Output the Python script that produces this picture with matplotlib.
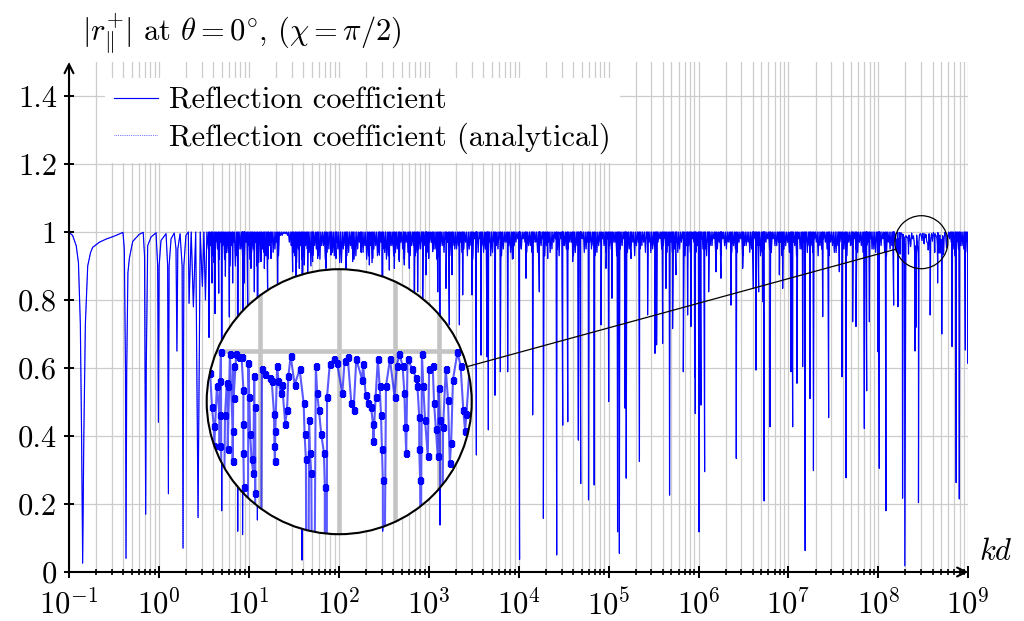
import numpy as np
import matplotlib.pyplot as plt
from matplotlib.patches import Circle
from matplotlib.lines import Line2D
from matplotlib.ticker import LogLocator, NullFormatter

plt.rcParams['font.family'] = 'serif'
plt.rcParams['font.serif'] = ['cmr10']
plt.rcParams['mathtext.fontset'] = 'cm'
plt.rcParams['axes.unicode_minus'] = False

# ---------------- data (log10(kd), |r|) ----------------
# smooth low-kd resonances
lead_logkd = [-1.0, -0.96, -0.92, -0.895, -0.874, -0.86, -0.848, -0.835, -0.818, -0.792,
              -0.76, -0.736, -0.662, -0.58, -0.514, -0.45, -0.40,
              -0.385, -0.372, -0.366, -0.358, -0.345, -0.329, -0.292, -0.22, -0.175,
              -0.16, -0.152, -0.147, -0.141, -0.125, -0.088, -0.032,
              -0.014, -0.006, 0.002, 0.023, 0.079,
              0.097, 0.105, 0.113, 0.135, 0.17,
              0.19, 0.20, 0.21, 0.235,
              0.258, 0.268, 0.277, 0.30]
lead_r = [0.999, 0.99, 0.96, 0.91, 0.73, 0.40, 0.026, 0.40, 0.73, 0.90,
          0.94, 0.955, 0.97, 0.98, 0.986, 0.993, 0.999,
          0.95, 0.60, 0.04, 0.60, 0.88, 0.922, 0.972, 0.993, 0.999,
          0.93, 0.50, 0.17, 0.60, 0.96, 0.985, 0.998,
          0.90, 0.44, 0.90, 0.975, 0.995,
          0.90, 0.23, 0.90, 0.98, 0.997,
          0.95, 0.65, 0.95, 0.995,
          0.90, 0.07, 0.90, 0.99]

# individual resonance dips (minimum of each spike)
dip_logkd = [0.335, 0.383, 0.435, 0.483, 0.517, 0.557, 0.59, 0.624, 0.665, 0.698,
             0.739, 0.783, 0.82, 0.876, 0.93, 0.95,
             0.987, 1.024, 1.061, 1.095, 1.135, 1.172, 1.209, 1.246, 1.32, 1.487,
             1.524, 1.561, 1.591, 1.617, 1.654, 1.709, 1.765, 1.858, 1.913, 1.969,
             2.08, 2.154, 2.247, 2.34, 2.377, 2.451, 2.488, 2.562, 2.618, 2.673,
             2.729, 2.784, 2.84, 2.877, 2.933, 2.97,
             3.0, 3.044, 3.1, 3.126, 3.192, 3.229, 3.259, 3.341, 3.378, 3.482,
             3.53, 3.582, 3.648, 3.663, 3.737, 3.797, 3.878, 3.941, 4.01, 4.082,
             4.156, 4.23, 4.275, 4.323, 4.423, 4.49, 4.546, 4.601, 4.664, 4.69,
             4.777, 4.84, 4.916, 4.972,
             5.001, 5.038, 5.1, 5.12, 5.182, 5.196, 5.249, 5.343, 5.434, 5.516,
             5.534, 5.601, 5.638, 5.678, 5.712, 5.749, 5.831, 5.879, 5.916, 5.957,
             5.964, 6.006, 6.027, 6.068, 6.113, 6.194, 6.25, 6.361, 6.42, 6.491,
             6.61, 6.639, 6.669, 6.713, 6.73, 6.795, 6.899, 6.936,
             7.029, 7.047, 7.095, 7.158, 7.186, 7.24, 7.278, 7.381, 7.447, 7.566,
             7.596, 7.64, 7.714, 7.751, 7.844, 7.87, 7.9, 7.992, 8.01, 8.084, 8.17,
             8.819, 8.865, 8.9, 8.967, 8.995]
dip_r = [0.79, 0.78, 0.16, 0.84, 0.80, 0.69, 0.85, 0.76, 0.82, 0.18,
         0.87, 0.75, 0.85, 0.12, 0.11, 0.85,
         0.785, 0.893, 0.824, 0.153, 0.913, 0.893, 0.815, 0.922, 0.849, 0.883,
         0.864, 0.893, 0.035, 0.903, 0.883, 0.913, 0.922, 0.893, 0.932, 0.922,
         0.893, 0.913, 0.942, 0.903, 0.922, 0.932, 0.12, 0.888, 0.893, 0.913,
         0.903, 0.893, 0.815, 0.824, 0.795, 0.874,
         0.922, 0.942, 0.824, 0.138, 0.834, 0.727, 0.874, 0.727, 0.815, 0.815,
         0.344, 0.638, 0.633, 0.418, 0.52, 0.589, 0.589, 0.922, 0.037, 0.864,
         0.462, 0.824, 0.158, 0.922, 0.05, 0.432, 0.442, 0.913, 0.388, 0.26,
         0.212, 0.256, 0.727, 0.893,
         0.501, 0.805, 0.118, 0.055, 0.482, 0.276, 0.922, 0.325, 0.756, 0.643,
         0.668, 0.672, 0.834, 0.226, 0.716, 0.874, 0.589, 0.756, 0.722, 0.574,
         0.466, 0.118, 0.491, 0.295, 0.824, 0.883, 0.864, 0.785, 0.334, 0.893,
         0.834, 0.594, 0.824, 0.795, 0.209, 0.427, 0.874, 0.834,
         0.589, 0.427, 0.555, 0.604, 0.063, 0.51, 0.298, 0.751, 0.454, 0.883,
         0.574, 0.277, 0.736, 0.722, 0.422, 0.533, 0.736, 0.648, 0.305, 0.18, 0.785,
         0.663, 0.263, 0.215, 0.653, 0.614]

# dense shallow ripple near |r| = 1, two interleaved rows of troughs
# (evenly along log10(kd) = 0.55 ... 8.99 and 0.57 ... 8.97)
band_r = [0.95, 0.93, 0.97, 0.92, 0.96, 0.94, 0.90, 0.97, 0.93, 0.95,
          0.92, 0.96, 0.94, 0.97, 0.91, 0.95, 0.93, 0.96, 0.94, 0.97,
          0.99, 0.995, 0.99, 0.96, 0.93, 0.95, 0.92, 0.96, 0.94, 0.93,
          0.95, 0.92, 0.96, 0.94, 0.97, 0.93, 0.95, 0.91, 0.96, 0.94,
          0.95, 0.93, 0.97, 0.94, 0.92, 0.96, 0.95, 0.93, 0.97, 0.94,
          0.93, 0.96, 0.94, 0.92, 0.95, 0.97, 0.93, 0.96, 0.94, 0.95,
          0.96, 0.94, 0.97, 0.95, 0.93, 0.96, 0.98, 0.94, 0.96, 0.95,
          0.97, 0.95, 0.93, 0.96, 0.98, 0.94, 0.96, 0.95, 0.97, 0.94,
          0.96, 0.98, 0.95, 0.97, 0.94, 0.96, 0.98, 0.95, 0.97, 0.96,
          0.94, 0.97, 0.95, 0.98, 0.96, 0.94, 0.97, 0.95, 0.98, 0.96,
          0.95, 0.97, 0.94, 0.96, 0.98, 0.95, 0.97, 0.96, 0.94, 0.97,
          0.96, 0.98, 0.95, 0.97, 0.94, 0.96, 0.98, 0.95, 0.97, 0.96,
          0.95, 0.97, 0.98, 0.94, 0.96, 0.97, 0.95, 0.98, 0.96, 0.94,
          0.97, 0.95, 0.98, 0.96, 0.94, 0.97, 0.96, 0.98, 0.95, 0.97,
          0.96, 0.94, 0.97, 0.98, 0.95, 0.97, 0.96, 0.94, 0.98, 0.96,
          0.97, 0.95, 0.98, 0.96, 0.94, 0.97, 0.95, 0.98, 0.96, 0.97,
          0.95, 0.97, 0.94, 0.96, 0.98, 0.95, 0.97, 0.96, 0.94, 0.97,
          0.96, 0.98, 0.95, 0.97, 0.94, 0.96, 0.98, 0.95, 0.97, 0.96,
          0.95, 0.97, 0.94, 0.96, 0.98, 0.95, 0.97, 0.96, 0.94, 0.97,
          0.96, 0.95, 0.97, 0.96, 0.98, 0.95, 0.97, 0.96, 0.94, 0.97,
          0.96, 0.98, 0.95, 0.97, 0.94, 0.96, 0.98, 0.95, 0.97, 0.96,
          0.95, 0.97]
band2_r = [0.96, 0.91, 0.95, 0.97, 0.92, 0.94, 0.96, 0.90, 0.95, 0.93,
           0.97, 0.92, 0.95, 0.90, 0.96, 0.94, 0.92, 0.97, 0.95, 0.93,
           0.99, 0.995, 0.97, 0.94, 0.91, 0.96, 0.93, 0.95, 0.90, 0.96,
           0.93, 0.96, 0.92, 0.95, 0.94, 0.97, 0.91, 0.95, 0.93, 0.96,
           0.92, 0.95, 0.94, 0.96, 0.93, 0.91, 0.96, 0.94, 0.95, 0.92,
           0.96, 0.93, 0.95, 0.97, 0.92, 0.94, 0.96, 0.93, 0.95, 0.97,
           0.93, 0.97, 0.95, 0.92, 0.96, 0.94, 0.97, 0.93, 0.95, 0.96,
           0.94, 0.97, 0.95, 0.92, 0.96, 0.98, 0.94, 0.96, 0.93, 0.97,
           0.95, 0.93, 0.97, 0.96, 0.92, 0.97, 0.95, 0.98, 0.94, 0.96,
           0.97, 0.94, 0.96, 0.93, 0.97, 0.95, 0.98, 0.93, 0.96, 0.95,
           0.97, 0.93, 0.96, 0.98, 0.94, 0.97, 0.95, 0.93, 0.96, 0.98,
           0.94, 0.96, 0.97, 0.93, 0.95, 0.98, 0.94, 0.96, 0.93, 0.97,
           0.96, 0.94, 0.97, 0.95, 0.93, 0.98, 0.96, 0.94, 0.97, 0.95,
           0.94, 0.97, 0.93, 0.96, 0.98, 0.94, 0.97, 0.95, 0.93, 0.96,
           0.98, 0.95, 0.93, 0.96, 0.97, 0.94, 0.95, 0.97, 0.93, 0.96,
           0.94, 0.97, 0.96, 0.93, 0.95, 0.98, 0.94, 0.96, 0.97, 0.93,
           0.96, 0.94, 0.97, 0.93, 0.95, 0.97, 0.94, 0.96, 0.98, 0.93,
           0.95, 0.97, 0.93, 0.96, 0.94, 0.97, 0.95, 0.93, 0.96, 0.98,
           0.94, 0.96, 0.93, 0.97, 0.95, 0.94, 0.96, 0.98, 0.93, 0.95,
           0.97, 0.94, 0.96, 0.93, 0.97, 0.95, 0.94, 0.96, 0.98, 0.94,
           0.96, 0.93, 0.97, 0.95, 0.94, 0.96, 0.97, 0.93, 0.95, 0.96,
           0.94]

# the sampled points seen magnified in the circle (log10(kd) 8.18 ... 8.77)
zoom_logkd = [8.178, 8.185, 8.191, 8.195, 8.199, 8.200, 8.206, 8.215, 8.213, 8.212,
              8.212, 8.217, 8.224, 8.228, 8.230, 8.230, 8.235, 8.243, 8.243, 8.241,
              8.241, 8.249, 8.256, 8.261, 8.265, 8.265, 8.265, 8.266, 8.269, 8.276,
              8.278, 8.280, 8.283, 8.287, 8.291, 8.294, 8.289, 8.291, 8.306, 8.313,
              8.323, 8.328, 8.333, 8.336, 8.334, 8.335, 8.340, 8.343, 8.348, 8.351,
              8.358, 8.362, 8.365, 8.370, 8.379, 8.390, 8.399, 8.401, 8.404, 8.407,
              8.411, 8.413, 8.416, 8.420, 8.426, 8.429, 8.433, 8.438, 8.444, 8.446,
              8.446, 8.451, 8.457, 8.466, 8.473, 8.485, 8.490, 8.497, 8.505, 8.510,
              8.516, 8.531, 8.529, 8.537, 8.542, 8.549, 8.553, 8.554, 8.559, 8.564,
              8.568, 8.571, 8.573, 8.575, 8.576, 8.582, 8.591, 8.601, 8.606, 8.612,
              8.619, 8.623, 8.625, 8.627, 8.630, 8.641, 8.649, 8.652, 8.656, 8.656,
              8.658, 8.659, 8.662, 8.665, 8.669, 8.675, 8.678, 8.686, 8.689, 8.693,
              8.697, 8.699, 8.702, 8.705, 8.709, 8.715, 8.720, 8.724, 8.727, 8.731,
              8.741, 8.748, 8.754, 8.758, 8.761, 8.768, 8.775]
zoom_r = [0.99, 0.995, 0.987, 0.967, 0.956, 0.944, 0.979, 0.999, 0.982, 0.962,
          0.944, 0.78, 0.962, 0.981, 0.979, 0.942, 0.998, 0.991, 0.972, 0.953,
          0.935, 0.998, 0.996, 0.996, 0.977, 0.957, 0.940, 0.920, 0.217, 0.993,
          0.973, 0.951, 0.936, 0.928, 0.916, 0.018, 0.985, 0.967, 0.989, 0.986,
          0.984, 0.982, 0.963, 0.953, 0.944, 0.935, 0.991, 0.982, 0.975, 0.980,
          0.957, 0.965, 0.985, 0.997, 0.980, 0.989, 0.969, 0.951, 0.936, 0.65,
          0.959, 0.940, 0.928, 0.72, 0.991, 0.975, 0.965, 0.951, 0.940, 0.920,
          0.204, 0.973, 0.992, 0.995, 0.993, 0.975, 0.994, 0.996, 0.969, 0.965,
          0.995, 0.992, 0.983, 0.974, 0.969, 0.967, 0.957, 0.947, 0.973, 0.995,
          0.979, 0.962, 0.942, 0.924, 0.756, 0.979, 0.995, 0.973, 0.991, 0.998,
          0.991, 0.975, 0.955, 0.940, 0.995, 0.989, 0.984, 0.979, 0.961, 0.942,
          0.924, 0.85, 0.998, 0.979, 0.959, 0.938, 0.989, 0.991, 0.969, 0.954,
          0.938, 0.978, 0.959, 0.70, 0.955, 0.989, 0.971, 0.934, 0.946, 0.983,
          0.999, 0.991, 0.965, 0.953, 0.963, 0.99, 0.985]

window = (8.176, 8.777)
zoom_center = (8.478, 0.97)   # centre of the magnified spot
magnify = 5.0


def spikes(t, v):
    """Trough list -> polyline that returns to |r| = 1 between troughs."""
    t = np.asarray(t, float)
    v = np.asarray(v, float)
    tops = np.concatenate([[t[0] - 0.008], (t[1:] + t[:-1]) / 2, [t[-1] + 0.008]])
    x = np.empty(2 * len(t) + 1)
    y = np.empty_like(x)
    x[0::2], y[0::2] = tops, 1.0
    x[1::2], y[1::2] = t, v
    return x, y


band_logkd = np.linspace(0.55, 8.99, len(band_r))
band2_logkd = np.linspace(0.57, 8.97, len(band2_r))
tl = np.concatenate([dip_logkd, band_logkd, band2_logkd])
tr = np.concatenate([dip_r, band_r, band2_r])
order = np.argsort(tl, kind='stable')
tl, tr = tl[order], tr[order]
a = (tl > 0.31) & (tl < window[0])
b = tl > window[1]
xa, ya = spikes(tl[a], tr[a])
xb, yb = spikes(tl[b], tr[b])

zo = np.argsort(zoom_logkd, kind='stable')
zx = np.asarray(zoom_logkd)[zo]
zy = np.asarray(zoom_r)[zo]

logkd = np.concatenate([lead_logkd, xa, zx, xb, [9.0]])
r = np.concatenate([lead_r, ya, zy, yb, [0.99]])
kd = 10.0 ** logkd

# ---------------- figure ----------------
W, H, DPI = 10.24, 6.21, 100
fig = plt.figure(figsize=(W, H), dpi=DPI)
ax = fig.add_axes([69 / 1024, 49 / 621, 899.3 / 1024, 510 / 621])

grid_kw = dict(color='#cccccc', lw=0.9)
ax.set_xscale('log')
ax.set_xlim(1e-1, 1e9)
ax.set_ylim(0, 1.5)
ax.set_axisbelow(True)
ax.grid(True, which='both', axis='x', **grid_kw)
ax.grid(True, which='major', axis='y', **grid_kw)

ax.plot(kd, r, ':', color='blue', lw=0.5, label='Reflection coefficient (analytical)', zorder=2)
ax.plot(kd, r, '-', color='blue', lw=0.85, label='Reflection coefficient', zorder=3)

ax.set_xticks(10.0 ** np.arange(-1, 10))
ax.set_xticklabels([rf'$10^{{{k}}}$' for k in range(-1, 10)])
ax.xaxis.set_minor_locator(LogLocator(base=10, subs=np.arange(2, 10), numticks=30))
ax.xaxis.set_minor_formatter(NullFormatter())
ax.set_yticks(np.arange(0, 1.41, 0.2))
ax.set_yticklabels(['0', '0.2', '0.4', '0.6', '0.8', '1', '1.2', '1.4'])
ax.tick_params(axis='x', which='major', direction='inout', length=9, width=1.4,
               labelsize=22, pad=7)
ax.tick_params(axis='x', which='minor', direction='inout', length=4.5, width=1.2)
ax.tick_params(axis='y', which='major', direction='inout', length=7.5, width=1.4,
               labelsize=22, pad=5)
for s in ax.spines.values():
    s.set_visible(False)
arrow = dict(arrowstyle='->', lw=1.5, color='black', shrinkA=0, shrinkB=0,
             mutation_scale=16)
ax.annotate('', xy=(1.0, 0), xytext=(0, 0), xycoords='axes fraction', arrowprops=arrow)
ax.annotate('', xy=(0, 1.0), xytext=(0, 0), xycoords='axes fraction', arrowprops=arrow)

h, l = ax.get_legend_handles_labels()
leg = ax.legend(h[::-1], l[::-1], loc='upper left', bbox_to_anchor=(0.040, 0.969),
                fontsize=22, frameon=True, fancybox=False, framealpha=1,
                facecolor='white', edgecolor='none', handlelength=1.45,
                handletextpad=0.35, labelspacing=0.27, borderpad=0.3, borderaxespad=0)

fig.text(82 / 1024, 1 - 41 / 621,
         r'$|r_{\Vert}^{+}|$ at $\theta = 0^{\circ}$, $(\chi = \pi/2)$',
         fontsize=22, ha='left', va='baseline')
fig.text(996 / 1024, 1 - 552 / 621, r'$kd$', fontsize=22, ha='center', va='center')

# ---------------- magnifying glass ----------------
R_big = 132.5  # px
big_c = np.array([339.2, 621 - 401.7])
ins = fig.add_axes([(big_c[0] - R_big) / 1024, (big_c[1] - R_big) / 621,
                    2 * R_big / 1024, 2 * R_big / 621])
half_x = R_big / (magnify * 89.93)
half_y = R_big / (magnify * 340.0)
ins.set_xscale('log')
ins.set_xlim(10 ** (zoom_center[0] - half_x), 10 ** (zoom_center[0] + half_x))
ins.set_ylim(zoom_center[1] - half_y, zoom_center[1] + half_y)
ins.axis('off')

clip = Circle((0.5, 0.5), 0.5, transform=ins.transAxes, fc='white', ec='none', zorder=0)
ins.add_patch(clip)
for v in [2e8, 3e8, 4e8, 5e8, 6e8]:
    ins.axvline(v, color='#c4c4c4', lw=3.3, zorder=1).set_clip_path(clip)
ins.axhline(1.0, color='#c4c4c4', lw=3.3, zorder=1).set_clip_path(clip)
ln, = ins.plot(kd, r, '-', color='blue', alpha=0.65, lw=1.5, zorder=2)
ln.set_clip_path(clip)
mk, = ins.plot(10.0 ** zx, zy, 's', color='blue', ms=3.6, zorder=3)
mk.set_clip_path(clip)
ins.add_patch(Circle((0.5, 0.5), 0.5, transform=ins.transAxes, fc='none', ec='black',
                     lw=1.5, zorder=5, clip_on=False))

# small circle on the main curve and connecting line (in inches)
small_c = ax.transData.transform((10 ** zoom_center[0], zoom_center[1])) / DPI
R_small = R_big / magnify / DPI
big_c_in = big_c / DPI
fig.patches.append(Circle(small_c, R_small, transform=fig.dpi_scale_trans,
                          fc='none', ec='black', lw=0.9))
u = (small_c - big_c_in) / np.hypot(*(small_c - big_c_in))
p0 = big_c_in + u * R_big / DPI
p1 = small_c - u * R_small
fig.lines.append(Line2D([p0[0], p1[0]], [p0[1], p1[1]], transform=fig.dpi_scale_trans,
                        color='black', lw=0.9))

fig.savefig('out.png', dpi=DPI)
